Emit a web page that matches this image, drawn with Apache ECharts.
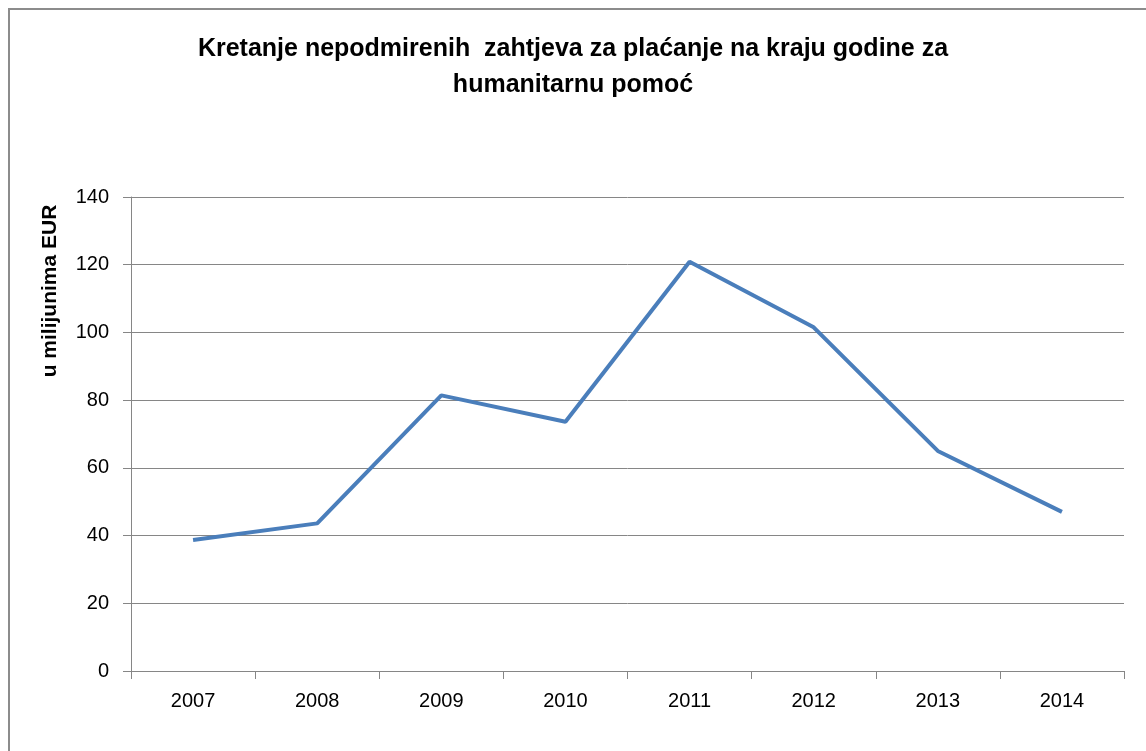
<!DOCTYPE html>
<html>
<head>
<meta charset="utf-8">
<script src="https://cdn.jsdelivr.net/npm/echarts@6/dist/echarts.min.js"></script>
<style>
  html, body { margin: 0; padding: 0; background: #fff; }
  #chart { width: 1146px; height: 751px; }
</style>
</head>
<body>
<div id="chart"></div>
<script>
const years = ['2007', '2008', '2009', '2010', '2011', '2012', '2013', '2014'];
const amounts = [38.7, 43.6, 81.4, 73.6, 120.9, 101.5, 65, 47];
const titleText = 'Kretanje nepodmirenih  zahtjeva za plaćanje na kraju godine za\nhumanitarnu pomoć';
const yAxisName = 'u milijunima EUR';

const chart = echarts.init(document.getElementById('chart'));

const option = {
  backgroundColor: '#ffffff',
  animation: false,
  title: {
    text: titleText,
    left: 'center',
    top: 26,
    textStyle: {
      fontFamily: 'Liberation Sans',
      fontWeight: 'bold',
      fontSize: 25,
      lineHeight: 36,
      color: '#000',
    },
  },
  graphic: [
    {
      type: 'rect',
      shape: { x: 9, y: 9, width: 1160, height: 770 },
      style: { fill: null, stroke: '#8c8c8c', lineWidth: 2 },
      silent: true,
    },
    {
      type: 'text',
      x: 50,
      y: 291,
      rotation: Math.PI / 2,
      style: {
        text: yAxisName,
        fontFamily: 'Liberation Sans',
        fontWeight: 'bold',
        fontSize: 21,
        fill: '#000',
        align: 'center',
        verticalAlign: 'middle',
      },
    },
  ],
  grid: {
    left: 131,
    right: 22,
    top: 197,
    bottom: 80,
  },
  xAxis: {
    type: 'category',
    data: years,
    boundaryGap: true,
    axisLine: { lineStyle: { color: '#868686', width: 1 } },
    axisTick: { show: true, length: 8, lineStyle: { color: '#868686' } },
    axisLabel: {
      color: '#000',
      fontFamily: 'Liberation Sans',
      fontSize: 20,
      margin: 20,
    },
  },
  yAxis: {
    type: 'value',
    min: 0,
    max: 140,
    interval: 20,
    axisLine: { show: true, lineStyle: { color: '#868686', width: 1 } },
    axisTick: { show: true, length: 8, lineStyle: { color: '#868686' } },
    splitLine: { lineStyle: { color: '#868686', width: 1 } },
    axisLabel: {
      color: '#000',
      fontFamily: 'Liberation Sans',
      fontSize: 20,
      margin: 22,
    },
  },
  series: [
    {
      type: 'line',
      data: amounts,
      showSymbol: false,
      symbol: 'none',
      lineStyle: { color: '#4a7ebb', width: 4 },
    },
  ],
};

chart.setOption(option);
</script>
</body>
</html>
